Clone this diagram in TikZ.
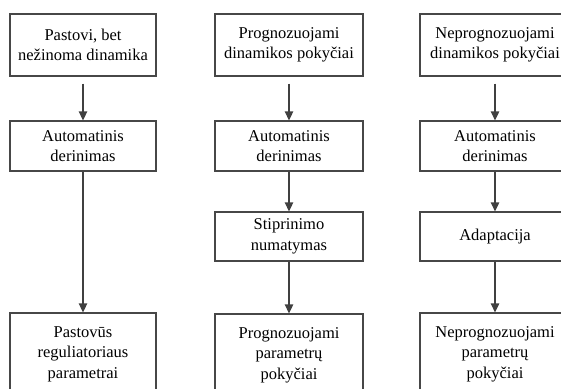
\documentclass[tikz,border=0pt]{standalone}
\usepackage{fontspec}
\setmainfont{Liberation Serif}
\usetikzlibrary{arrows.meta}
\begin{document}
\begin{tikzpicture}[x=1pt, y=-1pt,
    box/.style = {draw=black!72, line width=1.3pt, align=center, inner sep=0pt,
                  font=\fontsize{16.5}{20.5}\selectfont},
    arr/.style = {draw=black!75, line width=1.3pt, -{Triangle[length=9pt, width=8.5pt]}}]
        \useasboundingbox (0, 0) rectangle (561, 388);
        \clip (0, 0) rectangle (561, 388);
        % boxes
        \node [box, minimum width = 146, minimum height = 62] (pastovi) at (83, 45) {Pastovi, bet\\ nežinoma dinamika};
        \node [box, minimum width = 146, minimum height = 50] (auto1) at (83, 146) {Automatinis\\ derinimas};
        \node [box, minimum width = 146, minimum height = 82] (param1) at (83, 354) {Pastovūs\\ reguliatoriaus\\ parametrai};
        \node [box, minimum width = 148, minimum height = 62] (prog) at (289, 45) {Prognozuojami\\ dinamikos pokyčiai};
        \node [box, minimum width = 148, minimum height = 50] (auto2) at (289, 146) {Automatinis\\ derinimas};
        \node [box, minimum width = 148, minimum height = 49] (stipr) at (289, 236.5) {Stiprinimo\\ numatymas};
        \node [box, minimum width = 148, minimum height = 82] (param2) at (289, 355) {Prognozuojami\\ parametrų\\ pokyčiai};
        \node [box, minimum width = 150, minimum height = 62] (neprog) at (495, 45) {Neprognozuojami\\ dinamikos pokyčiai};
        \node [box, minimum width = 150, minimum height = 50] (auto3) at (495, 146) {Automatinis\\ derinimas};
        \node [box, minimum width = 150, minimum height = 49] (adapt) at (495, 236.5) {Adaptacija};
        \node [box, minimum width = 150, minimum height = 82] (param3) at (495, 354) {Neprognozuojami\\ parametrų\\ pokyčiai};
        % arrows
        \draw [arr, shorten <= 7pt] (pastovi) -- (auto1);
        \draw [arr] (auto1) -- (param1);
        \draw [arr, shorten <= 7pt] (prog) -- (auto2);
        \draw [arr] (auto2) -- (stipr);
        \draw [arr] (stipr) -- (param2);
        \draw [arr, shorten <= 7pt] (neprog) -- (auto3);
        \draw [arr] (auto3) -- (adapt);
        \draw [arr] (adapt) -- (param3);
\end{tikzpicture}
\end{document}
